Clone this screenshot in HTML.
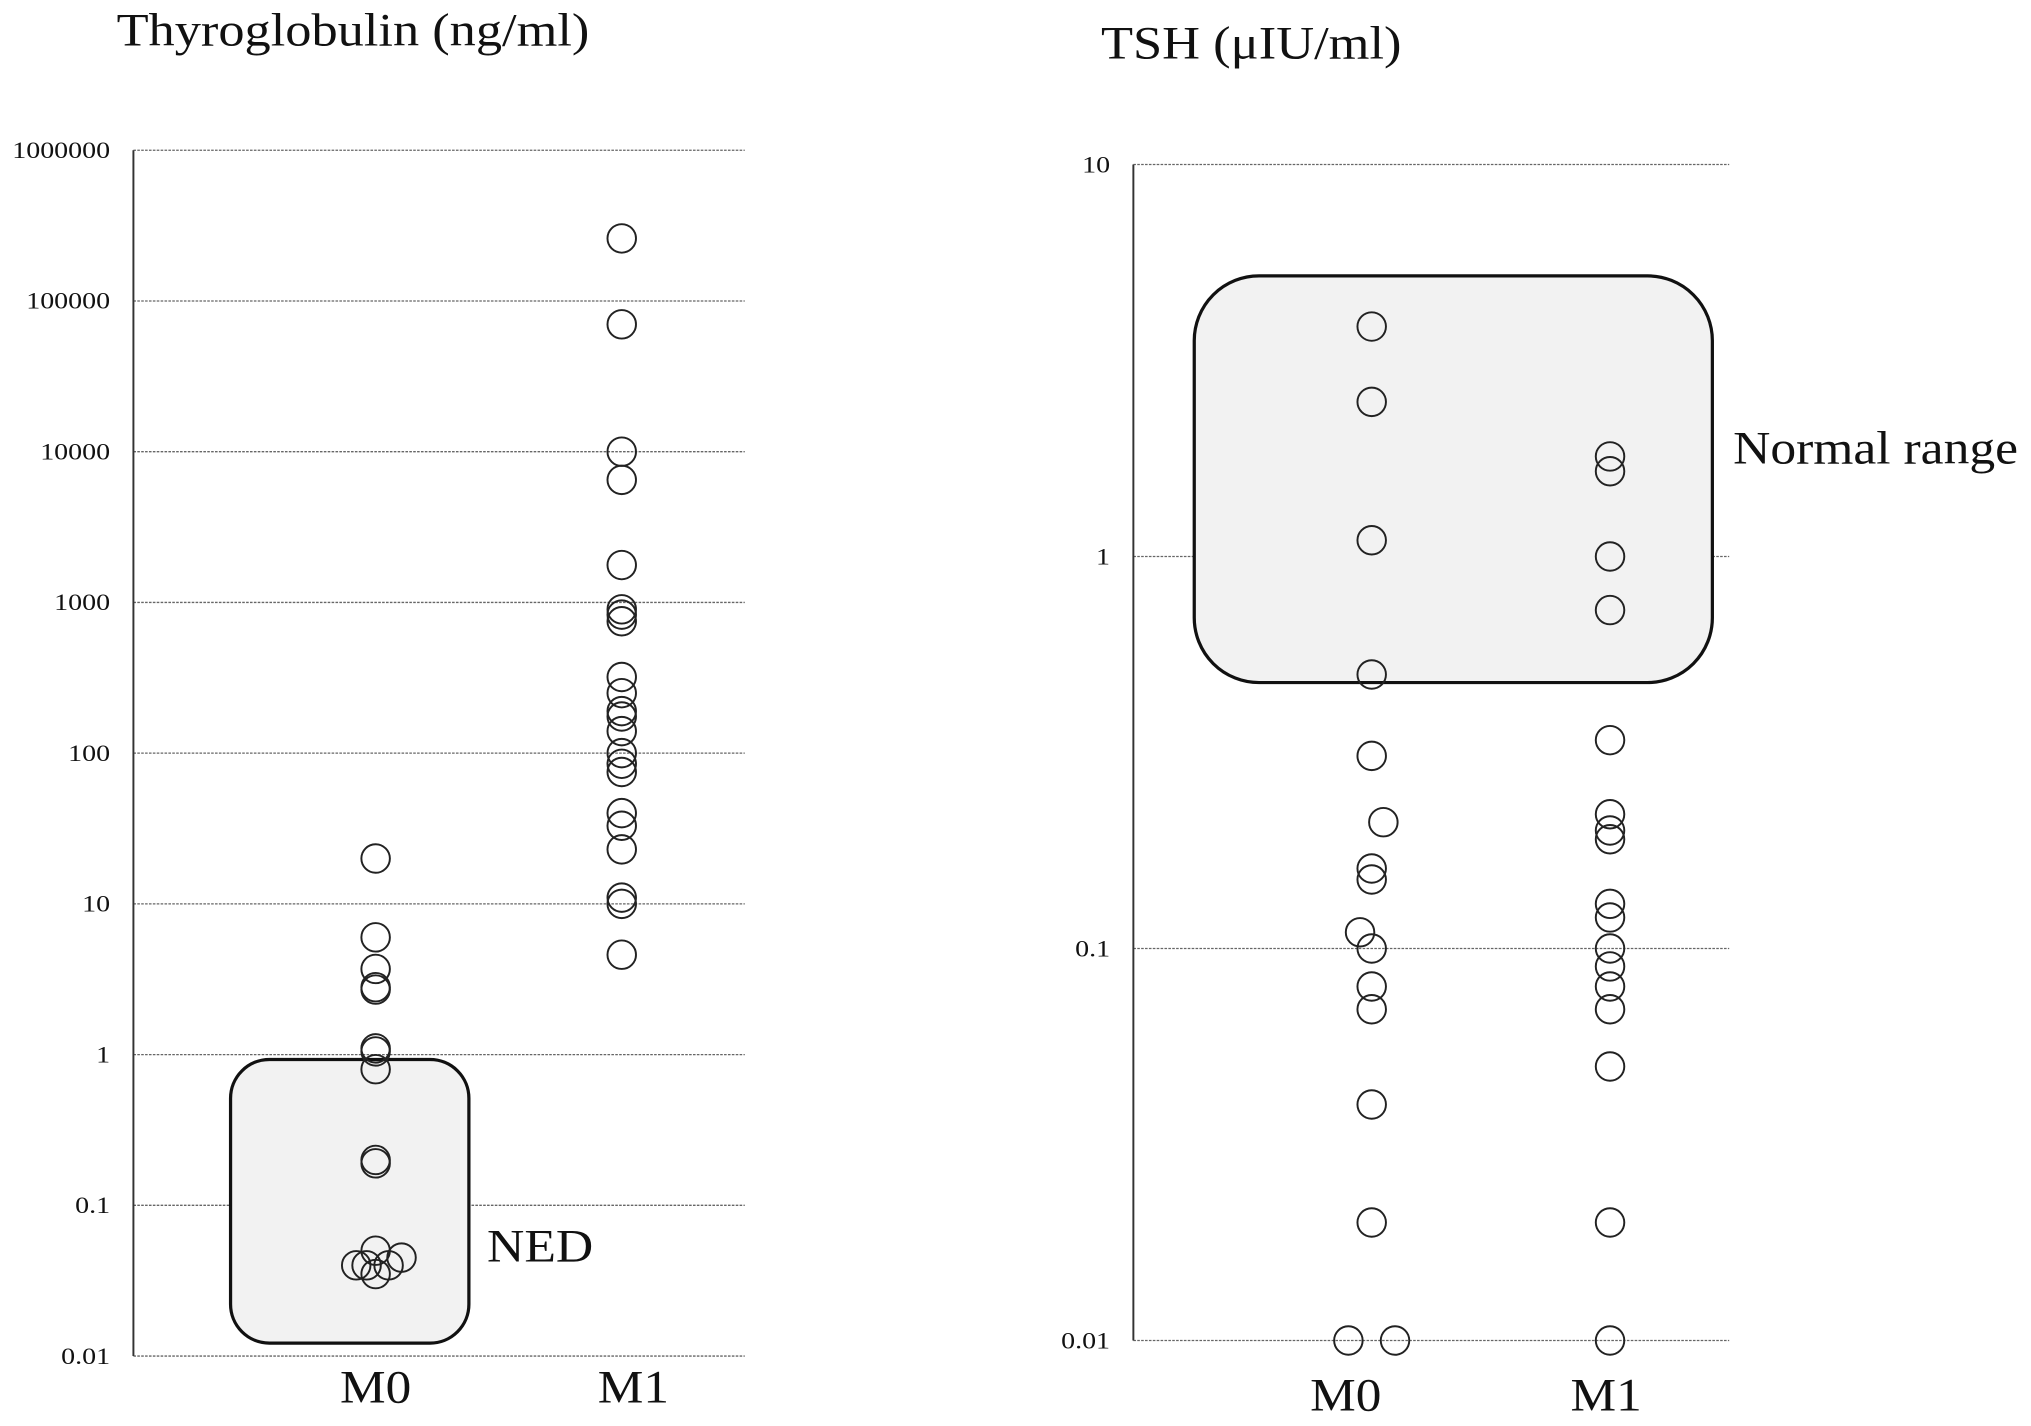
<!DOCTYPE html>
<html><head><meta charset="utf-8"><style>
html,body{margin:0;padding:0;background:#fff}
svg{display:block}
text{font-family:"Liberation Serif",serif;fill:#111}
</style></head><body>
<svg id="chart" width="2031" height="1426" viewBox="0 0 1568 1101" preserveAspectRatio="none" xmlns="http://www.w3.org/2000/svg">
<g id="left"></g>
<g id="right"></g>
</svg>
<script>
const tgTicks = ["1000000","100000","10000","1000","100","10","1","0.1","0.01"];
const tgTickValues = [1e6,1e5,1e4,1e3,100,10,1,0.1,0.01];
const tgM0 = [20,6,3.7,2.8,2.7,1.1,1.05,0.8,0.2,0.19,0.04,0.04,0.05,0.035,0.04,0.045];
const tgM0Jitter = [0,0,0,0,0,0,0,0,0,0,-15,-7,0,0,10,20];
const tgM1 = [260000,70000,10000,6500,1770,900,830,750,320,250,190,175,140,100,85,75,40,33,23,11,10,4.6];
const tshTicks = ["10","1","0.1","0.01"];
const tshTickValues = [10,1,0.1,0.01];
const tshM0 = [3.86,2.48,1.1,0.5,0.31,0.21,0.16,0.15,0.11,0.1,0.08,0.07,0.04,0.02,0.01,0.01];
const tshM0Jitter = [0,0,0,0,0,9,0,0,-9,0,0,0,0,0,-18,18];
const tshM1 = [1.8,1.65,1,0.73,0.34,0.22,0.2,0.19,0.13,0.12,0.1,0.09,0.08,0.07,0.05,0.02,0.01];

const NS="http://www.w3.org/2000/svg";
function mk(tag,attrs,parent){const e=document.createElementNS(NS,tag);for(const k in attrs)e.setAttribute(k,attrs[k]);parent.appendChild(e);return e;}
function stretch(t,f){const l=t.getComputedTextLength();if(l>0){t.setAttribute('textLength',l*f);t.setAttribute('lengthAdjust','spacingAndGlyphs');}}
function logScale(v0,v1,y0,y1){const a=Math.log10(v0),b=Math.log10(v1);return v=>y0+(Math.log10(v)-a)/(b-a)*(y1-y0);}

function panel(g,o){
  const y=logScale(o.max,o.min,o.top,o.bottom);
  const t=mk('text',{x:o.titleX,y:o.titleY,'font-size':36},g);t.textContent=o.title;
  
  
  t.setAttribute('textLength',o.titleW);t.setAttribute('lengthAdjust','spacingAndGlyphs');
  o.tickVals.forEach((v,i)=>{
    const gl=mk('line',{x1:o.axisX,x2:o.gridEnd,y1:y(v),y2:y(v),stroke:'#666','stroke-width':1,'stroke-dasharray':'2,1'},g);
    
    
    const tl=mk('text',{x:o.axisX-18,y:y(v)+6,'font-size':18,'text-anchor':'end'},g);tl.textContent=o.tickLabels[i];
    
    
    stretch(tl,1.2);
  });
  const ax=mk('line',{x1:o.axisX,x2:o.axisX,y1:o.top,y2:o.bottom,stroke:'#333','stroke-width':1.5},g);
  
  
  const b=o.box;
  const r=mk('rect',{x:b.x,y:b.y,width:b.w,height:b.h,rx:b.rx,fill:'#f2f2f2',stroke:'#111','stroke-width':2.5},g);
  
  
  const bl=mk('text',{x:o.boxLabel.x,y:o.boxLabel.y,'font-size':36},g);bl.textContent=o.boxLabel.t;
  
  
  bl.setAttribute('textLength',o.boxLabel.w);bl.setAttribute('lengthAdjust','spacingAndGlyphs');
  o.groups.forEach(gr=>{
    gr.vals.forEach((v,i)=>{
      const c=mk('circle',{cx:gr.x+(gr.jit?gr.jit[i]:0),cy:y(v),r:11,fill:'none',stroke:'#222','stroke-width':1.5},g);
      
      
    });
    const xl=mk('text',{x:gr.lx,y:o.xLabelY,'font-size':36,'text-anchor':'middle'},g);xl.textContent=gr.name;
    
    
    xl.setAttribute('textLength',55);xl.setAttribute('lengthAdjust','spacingAndGlyphs');
  });
}
panel(document.getElementById('left'),{title:'Thyroglobulin (ng/ml)',titleX:90,titleY:35,titleW:365,max:1e6,min:0.01,top:116,bottom:1047,axisX:103,gridEnd:575,
  tickVals:tgTickValues,tickLabels:tgTicks,box:{x:178,y:818,w:184,h:219,rx:30},boxName:'ned-box',boxLabel:{x:376,y:974,t:'NED',w:82},
  xLabelY:1083,groups:[{name:'M0',x:290,lx:290,vals:tgM0,jit:tgM0Jitter},{name:'M1',x:480,lx:489,vals:tgM1}]});
panel(document.getElementById('right'),{title:'TSH (\u03bcIU/ml)',titleX:850,titleY:45,titleW:232,max:10,min:0.01,top:127,bottom:1035,axisX:875,gridEnd:1335,
  tickVals:tshTickValues,tickLabels:tshTicks,box:{x:922,y:213,w:400,h:314,rx:50},boxName:'normal-range-box',boxLabel:{x:1338,y:358,t:'Normal range',w:220},
  xLabelY:1089,groups:[{name:'M0',x:1059,lx:1039,vals:tshM0,jit:tshM0Jitter},{name:'M1',x:1243,lx:1240,vals:tshM1}]});
</script>
</body></html>
